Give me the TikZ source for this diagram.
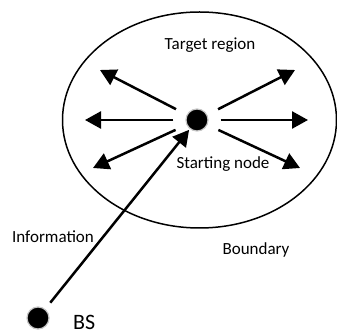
\documentclass[tikz,border=0pt]{standalone}
\usepackage{fontspec}
\setmainfont{Carlito}
\usepackage{tikz}
\usetikzlibrary{arrows.meta}

\begin{document}
\begin{tikzpicture}[x=1pt,y=-1pt,
	arr/.style={line width=2.5pt,-{Triangle[length=16pt,width=17pt]}},
	dot/.style={circle,fill=black,draw=gray!45,line width=1.2pt,inner sep=0pt,minimum size=22pt},
	lbl/.style={font=\fontsize{17}{19}\selectfont}]
			\useasboundingbox (0,0) rectangle (337,336);
			\draw[line width=1.5pt] (199.5,120) ellipse (137 and 108);
			\node[dot] (start) at (197,120) {};
			\node[dot] (bs) at (38,318) {};
			\coordinate (ul) at (100,70);
			\coordinate (l) at (85,120);
			\coordinate (dl) at (93,168);
			\coordinate (ur) at (295,70);
			\coordinate (r) at (308,120);
			\coordinate (dr) at (300,168);
			\foreach \t in {ul,l,dl,ur,r,dr}
				\draw[arr,shorten <=12pt] (start) -- (\t);
			\draw[arr,shorten <=8pt,shorten >=1pt] (bs) -- (start);
			\node[lbl] (target) at (210,45) {Target region};
			\node[lbl] (sn) at (223,164) {Starting node};
			\node[lbl] (info) at (53,237) {Information};
			\node[lbl] (bound) at (256,250) {Boundary};
			\node[font=\fontsize{22}{24}\selectfont,anchor=base west,inner sep=0pt] (bslbl) at (73,329) {BS};
		\end{tikzpicture}
\end{document}
